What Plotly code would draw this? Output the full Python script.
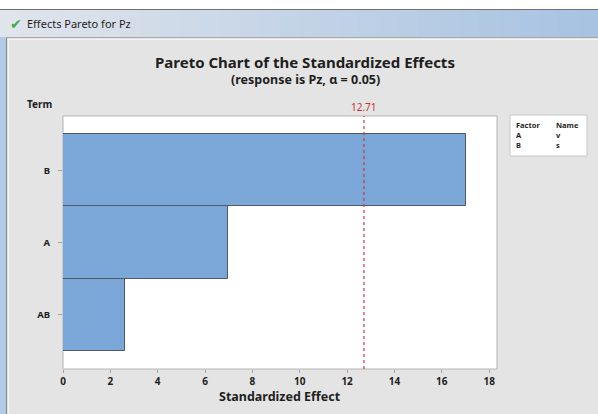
import plotly.graph_objects as go

# Standardized effects for the Pz response
terms = ["B", "A", "AB"]
effects = [17.04, 6.97, 2.62]
critical_value = 12.71
x_ticks = [0, 2, 4, 6, 8, 10, 12, 14, 16, 18]

# factor legend table
factor_codes = ["A", "B"]
factor_names = ["v", "s"]

FONT = "Noto Sans"
TXT = "#1e1e1e"

fig = go.Figure()

# draw smallest effect at bottom, largest on top
fig.add_trace(go.Bar(
    x=effects[::-1],
    y=terms[::-1],
    orientation="h",
    width=1.0,
    marker=dict(color="#7ba6d8", line=dict(color="#4f5a66", width=1)),
    hoverinfo="x+y",
))

W, H = 598, 414
m_l, m_r, m_t, m_b = 63, 101, 116, 45
pw = W - m_l - m_r
ph = H - m_t - m_b


def fx(p):
    return (p - m_l) / pw


def fy(p):
    return 1 - (p - m_t) / ph


shapes = []
# window body
shapes.append(dict(type="rect", xref="paper", yref="paper", x0=fx(0), x1=fx(W),
                   y0=fy(H), y1=fy(0), fillcolor="#e4e4e4", line=dict(width=0), layer="below"))
# white top strip
shapes.append(dict(type="rect", xref="paper", yref="paper", x0=fx(0), x1=fx(W),
                   y0=fy(9), y1=fy(0), fillcolor="#ffffff", line=dict(width=0), layer="below"))
# title bar gradient
n = 30
c0 = (224, 229, 236)
c1 = (168, 195, 226)
for i in range(n):
    t = i / (n - 1)
    c = tuple(int(c0[k] + (c1[k] - c0[k]) * t) for k in range(3))
    shapes.append(dict(type="rect", xref="paper", yref="paper",
                       x0=fx(W * i / n), x1=fx(W * (i + 1) / n + 0.5),
                       y0=fy(37), y1=fy(10),
                       fillcolor="rgb(%d,%d,%d)" % c, line=dict(width=0), layer="below"))
shapes.append(dict(type="line", xref="paper", yref="paper", x0=fx(0), x1=fx(W),
                   y0=fy(9.5), y1=fy(9.5), line=dict(color="#707070", width=1), layer="below"))
shapes.append(dict(type="line", xref="paper", yref="paper", x0=fx(0), x1=fx(W),
                   y0=fy(37.5), y1=fy(37.5), line=dict(color="#a8a8a8", width=1), layer="below"))
# left window border
shapes.append(dict(type="rect", xref="paper", yref="paper", x0=fx(0), x1=fx(6),
                   y0=fy(H), y1=fy(37), fillcolor="#b3cbe6", line=dict(width=0), layer="below"))
shapes.append(dict(type="line", xref="paper", yref="paper", x0=fx(6.5), x1=fx(6.5),
                   y0=fy(H), y1=fy(38), line=dict(color="#8a8a8a", width=1), layer="below"))
shapes.append(dict(type="line", xref="paper", yref="paper", x0=fx(8.5), x1=fx(8.5),
                   y0=fy(H), y1=fy(40), line=dict(color="#f4f4f4", width=1), layer="below"))
shapes.append(dict(type="line", xref="paper", yref="paper", x0=fx(8), x1=fx(W),
                   y0=fy(39.5), y1=fy(39.5), line=dict(color="#f4f4f4", width=1), layer="below"))

# plot area background
shapes.append(dict(type="rect", xref="paper", yref="paper", x0=0, x1=1, y0=0, y1=1,
                   fillcolor="#ffffff", line=dict(color="#b4b4b4", width=1), layer="below"))

# critical value reference line
shapes.append(dict(type="line", xref="x", yref="paper", x0=critical_value, x1=critical_value,
                   y0=0, y1=1, line=dict(color="#d4343c", width=1.2, dash="3px,3px")))

# factor table box
shapes.append(dict(type="rect", xref="paper", yref="paper", x0=fx(510), x1=fx(587),
                   y0=fy(156), y1=fy(115), fillcolor="#ffffff",
                   line=dict(color="#c8c8c8", width=1)))

annotations = [
    dict(text="Effects Pareto for Pz", x=fx(25), y=fy(23.5), xanchor="left", yanchor="middle",
         font=dict(family=FONT, size=11, color="#1e1e1e")),
    dict(text="✔", x=fx(8), y=fy(23.5), xanchor="left", yanchor="middle",
         font=dict(family="DejaVu Sans", size=14, color="#43a84a")),
    dict(text="<b>Pareto Chart of the Standardized Effects</b>", x=fx(305), y=fy(62),
         xanchor="center", yanchor="middle", font=dict(family=FONT, size=15, color=TXT)),
    dict(text="<b>(response is Pz, α = 0.05)</b>", x=fx(305), y=fy(80),
         xanchor="center", yanchor="middle", font=dict(family=FONT, size=12.5, color=TXT)),
    dict(text="<b>Term</b>", x=fx(25), y=fy(104), xanchor="left", yanchor="middle",
         font=dict(family=FONT, size=10, color=TXT)),
    dict(text=f"{critical_value:.2f}", x=critical_value, xref="x", y=fy(107), xanchor="center",
         yanchor="middle", font=dict(family=FONT, size=10, color="#c8323a")),
    dict(text="<b>Standardized Effect</b>", x=fx(280), y=fy(396.5), xanchor="center",
         yanchor="middle", font=dict(family=FONT, size=12.5, color=TXT)),
    dict(text="<br>".join(["<b>Factor</b>"] + [f"<b>{c}</b>" for c in factor_codes]),
         x=fx(514), y=fy(118), xanchor="left", yanchor="top", align="left",
         font=dict(family=FONT, size=7.5, color=TXT)),
    dict(text="<br>".join(["<b>Name</b>"] + [f"<b>{nm}</b>" for nm in factor_names]),
         x=fx(554), y=fy(118), xanchor="left", yanchor="top", align="left",
         font=dict(family=FONT, size=7.5, color=TXT)),
]

for a in annotations:
    a.setdefault("xref", "paper")
    a["yref"] = "paper"
    a["showarrow"] = False

fig.update_layout(
    width=W, height=H,
    margin=dict(l=m_l, r=m_r, t=m_t, b=m_b, pad=0),
    paper_bgcolor="#e4e4e4",
    plot_bgcolor="rgba(0,0,0,0)",
    showlegend=False,
    bargap=0,
    shapes=shapes,
    annotations=annotations,
    xaxis=dict(range=[0, 18.33], tickvals=x_ticks, ticks="outside", ticklen=3,
               tickcolor="#a0a0a0", showgrid=False, zeroline=False, showline=False,
               ticklabelstandoff=0,
               tickfont=dict(family=FONT, size=10, color=TXT, weight="bold"),
               fixedrange=True),
    yaxis=dict(range=[-0.75, 2.75], type="category", categoryorder="array",
               categoryarray=terms[::-1], ticks="outside", ticklen=4,
               tickcolor="#a0a0a0", showgrid=False, zeroline=False, showline=False,
               ticklabelstandoff=6,
               tickfont=dict(family=FONT, size=9.5, color=TXT, weight="bold"),
               fixedrange=True),
)

fig.write_html("out.html")
